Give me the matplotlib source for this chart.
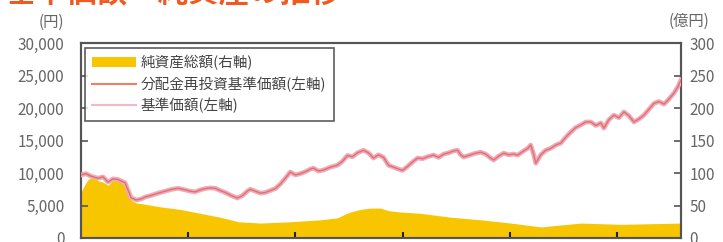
import matplotlib
matplotlib.use("Agg")
import matplotlib.pyplot as plt
from matplotlib.patches import Patch
from matplotlib.lines import Line2D

plt.rcParams['font.family'] = ['Noto Sans CJK JP', 'DejaVu Sans']

# observation index (0 .. 599) and values
nav_t = [0, 5, 10, 17, 22, 27, 32, 37, 44, 50, 55, 60, 64, 69, 77, 84, 91, 97, 104, 109,
         114, 119, 124, 129, 134, 139, 144, 149, 156, 161, 166, 169, 174, 179, 184, 189, 194, 199,
         204, 209, 214, 219, 224, 229, 232, 237, 242, 249, 256, 261, 266, 271, 276, 282, 287,
         292, 297, 302, 307, 312, 317, 321, 326, 331, 336, 341, 346, 352, 357, 362, 367, 372,
         376, 379, 382, 387, 393, 399, 404, 409, 412, 417, 422, 427, 432, 436, 441, 446, 449,
         452, 454, 459, 464, 469, 474, 479, 484, 489, 494, 499, 504, 509, 514, 519, 522, 527,
         532, 537, 542, 547, 552, 557, 562, 567, 572, 577, 582, 586, 592, 596, 599]
nav = [9700, 9900, 9500, 9200, 9400, 8600, 9100, 9000, 8500, 6200, 5850, 6000, 6300, 6500,
       6900, 7200, 7500, 7650, 7400, 7200, 7100, 7400, 7600, 7700, 7650, 7300, 7000, 6600,
       6150, 6500, 7200, 7500, 7200, 6900, 7000, 7300, 7600, 8300, 9200, 10150, 9700, 9900,
       10200, 10600, 10750, 10300, 10450, 10900, 11200, 11800, 12700, 12500, 13100, 13500,
       13100, 12300, 12800, 12400, 11200, 10900, 10600, 10400, 11000, 11700, 12300, 12200,
       12500, 12750, 12400, 12900, 13100, 13400, 13500, 12800, 12450, 12700, 13000, 13200,
       12900, 12300, 12000, 12600, 13050, 12800, 12900, 12750, 13300, 13800, 14300, 12800,
       11500, 12800, 13500, 13800, 14300, 14600, 15500, 16300, 17000, 17400, 17850, 17850,
       17300, 17700, 16900, 18200, 18900, 18500, 19400, 18800, 17850, 18300, 18900, 19800,
       20700, 21000, 20600, 21200, 22300, 23300, 24300]

asset_t = [0, 3, 7, 12, 17, 22, 27, 32, 37, 44, 48, 50, 55, 64, 79, 99, 119, 139, 157, 179,
           209, 239, 256, 264, 269, 279, 289, 299, 307, 319, 339, 369, 399, 429, 459, 479,
           499, 519, 539, 569, 599]
assets = [70, 80, 90, 94, 88, 86, 81, 89, 88, 86, 75, 58, 54, 52, 48, 44, 38, 32, 25, 23,
          25, 28, 31, 37, 40, 44, 46, 46, 42, 40, 38, 32, 28, 23, 17, 20, 23, 22, 21, 22, 23]

xtick_pos = [107, 214, 321, 428, 535]
left_ticks = [0, 5000, 10000, 15000, 20000, 25000, 30000]
left_labels = ['0', '5,000', '10,000', '15,000', '20,000', '25,000', '30,000']
right_ticks = [0, 50, 100, 150, 200, 250, 300]
right_labels = ['0', '50', '100', '150', '200', '250', '300']

title = '基準価額・純資産の推移'
legend_labels = ['純資産総額(右軸)', '分配金再投資基準価額(左軸)', '基準価額(左軸)']

W, H = 723, 242
fig = plt.figure(figsize=(W / 100, H / 100), dpi=100)
ax = fig.add_axes([81 / W, 1 - 238 / H, 600 / W, 195 / H])
ax2 = ax.twinx()

yellow = '#f7c600'
pink = '#f2aab8'
orange = '#dd7070'

ax2.fill_between(asset_t, 0, assets, color=yellow, lw=0, zorder=1)
ax2.set_ylim(0, 300)
ax.set_zorder(ax2.get_zorder() + 1)
ax.patch.set_visible(False)
ax.plot(nav_t, nav, color=pink, lw=3.4, zorder=3)
ax.plot(nav_t, nav, color=orange, lw=1.0, zorder=4)

ax.set_xlim(0, 599)
ax.set_ylim(0, 30000)
ax.set_xticks(xtick_pos)
ax.set_xticklabels([])
ax.set_yticks(left_ticks)
ax.set_yticklabels(left_labels)
ax2.set_yticks(right_ticks)
ax2.set_yticklabels(right_labels)

tc = '#666666'
sc = '#555555'
ax.tick_params(axis='y', direction='in', length=5, width=1.2, color=sc, labelsize=11,
               labelcolor=tc, pad=12)
ax.tick_params(axis='x', direction='in', length=4, width=1.5, color='#222222')
ax2.tick_params(axis='y', direction='in', length=5, width=1.2, color=sc, labelsize=11,
                labelcolor=tc, pad=6)
for a in (ax, ax2):
    for s in a.spines.values():
        s.set_color(sc)
        s.set_linewidth(1.5)

fig.text(64 / W, 1 - 22 / H, '(円)', ha='right', va='center', fontsize=11, color=tc)
fig.text(669 / W, 1 - 21 / H, '(億円)', ha='left', va='center', fontsize=11, color=tc)
fig.text(5 / W, 1 - 8 / H, title, ha='left', va='bottom', fontsize=22,
         fontweight='bold', color='#ee5a22')

handles = [Patch(facecolor=yellow, edgecolor='none'),
           Line2D([], [], color='#f08060', lw=1.5),
           Line2D([], [], color='#f2b8c6', lw=1.5)]
leg = ax.legend(handles, legend_labels, loc='upper left', bbox_to_anchor=(0.006, 0.975),
                fontsize=10.5, frameon=True, fancybox=False, borderpad=0.5,
                labelspacing=0.42, handlelength=3.0, handletextpad=0.35,
                borderaxespad=0)
leg.get_frame().set_edgecolor('#333333')
leg.get_frame().set_linewidth(1.2)
for t in leg.get_texts():
    t.set_color('#444444')

fig.savefig('out.png', dpi=100)
